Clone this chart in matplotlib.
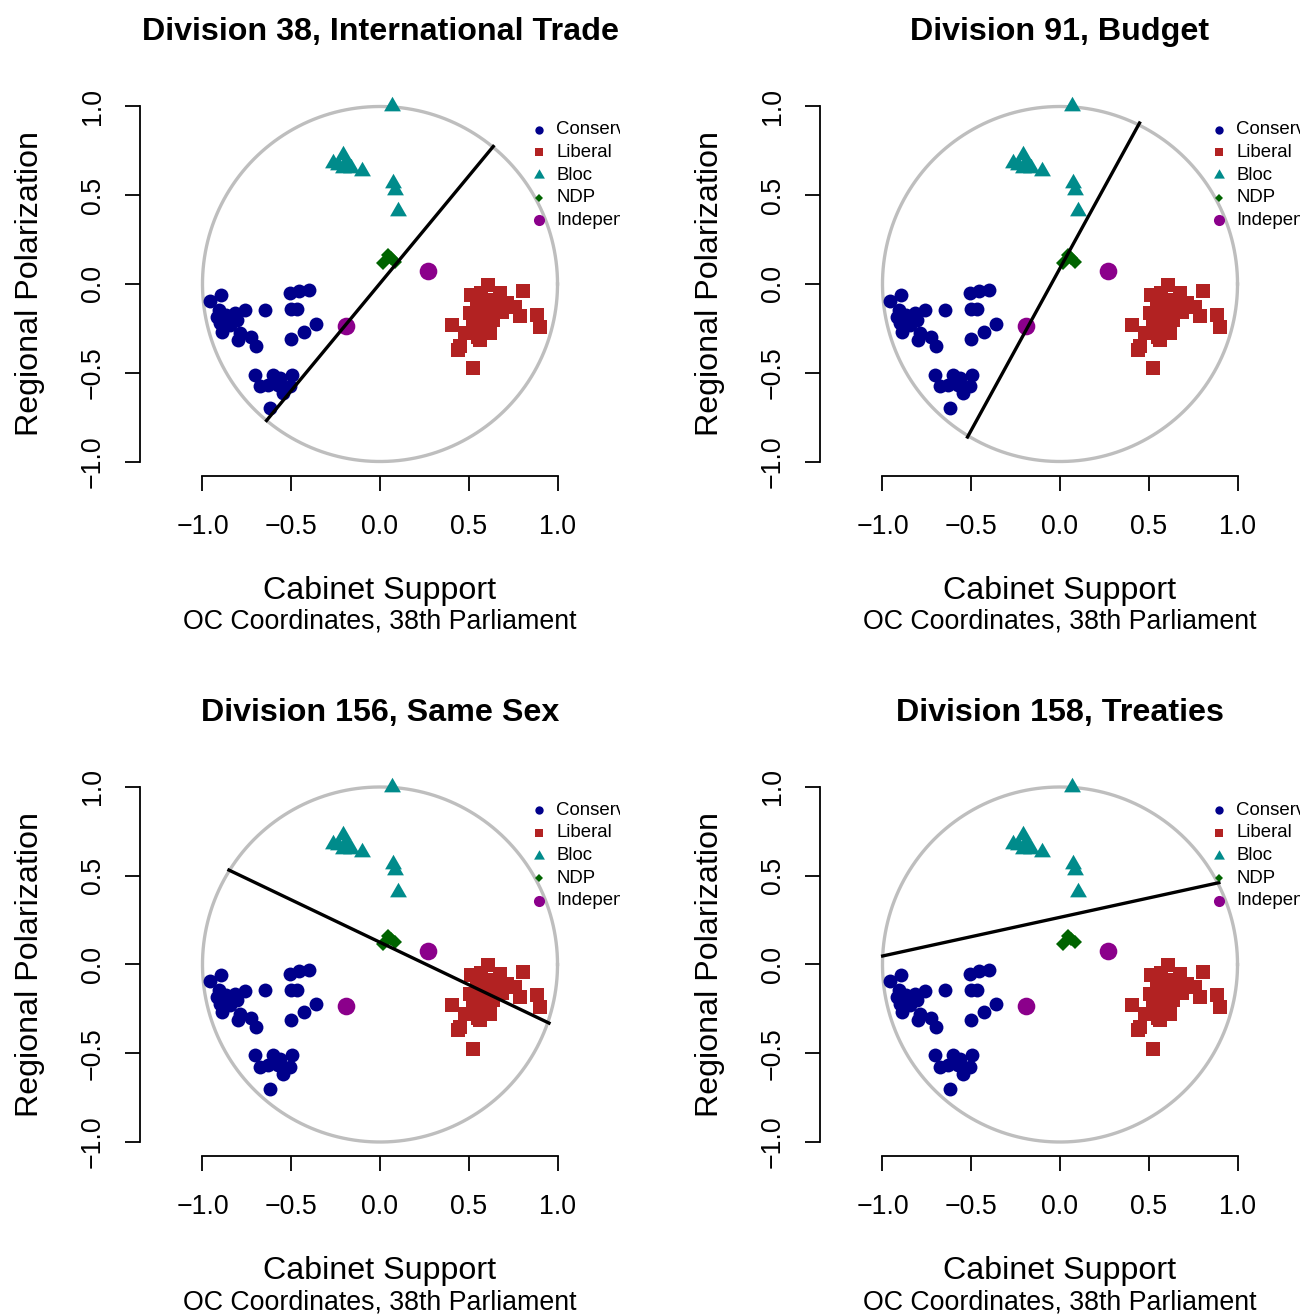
import numpy as np
import matplotlib
matplotlib.use("Agg")
import matplotlib.pyplot as plt

plt.rcParams['font.family'] = ['Liberation Sans', 'DejaVu Sans']

# OC coordinates of the MPs (same in every panel)
cons_x = [-0.959, -0.897, -0.906, -0.870, -0.818, -0.762, -0.902, -0.891, -0.846, -0.808,
          -0.790, -0.799, -0.724, -0.696, -0.649, -0.508, -0.455, -0.399, -0.504, -0.470,
          -0.358, -0.429, -0.504, -0.705, -0.677, -0.602, -0.564, -0.498, -0.508, -0.546,
          -0.617, -0.630, -0.574, -0.855, -0.920]
cons_y = [-0.093, -0.061, -0.146, -0.174, -0.164, -0.149, -0.221, -0.268, -0.230, -0.202,
          -0.277, -0.315, -0.300, -0.352, -0.146, -0.052, -0.037, -0.033, -0.142, -0.142,
          -0.224, -0.268, -0.311, -0.510, -0.577, -0.510, -0.530, -0.510, -0.577, -0.615,
          -0.700, -0.568, -0.568, -0.210, -0.185]

lib_x = [0.403, 0.450, 0.440, 0.525, 0.515, 0.609, 0.675, 0.807, 0.544, 0.581,
         0.638, 0.713, 0.760, 0.788, 0.882, 0.901, 0.506, 0.563, 0.619, 0.544,
         0.638, 0.525, 0.581, 0.600, 0.656, 0.506, 0.478, 0.570, 0.620, 0.690,
         0.550, 0.600]
lib_y = [-0.230, -0.352, -0.371, -0.474, -0.061, -0.005, -0.052, -0.042, -0.127, -0.164,
         -0.164, -0.108, -0.127, -0.183, -0.174, -0.240, -0.277, -0.315, -0.277, -0.240,
         -0.202, -0.202, -0.240, -0.089, -0.127, -0.164, -0.277, -0.050, -0.130, -0.160,
         -0.300, -0.210]

bloc_x = [-0.264, -0.211, -0.189, -0.207, -0.161, -0.104, -0.236, 0.074, 0.084, 0.102, 0.065]
bloc_y = [0.681, 0.728, 0.690, 0.653, 0.653, 0.634, 0.671, 0.568, 0.531, 0.409, 1.000]

ndp_x = [0.016, 0.044, 0.060, 0.083]
ndp_y = [0.118, 0.163, 0.146, 0.124]

ind_x = [-0.189, 0.268]
ind_y = [-0.234, 0.076]

# cutting lines for each division: (x1, y1, x2, y2)
titles = ["Division 38, International Trade", "Division 91, Budget",
          "Division 156, Same Sex", "Division 158, Treaties"]
cut_lines = [(-0.639, -0.769, 0.638, 0.775),
             (-0.521, -0.862, 0.448, 0.907),
             (-0.851, 0.532, 0.952, -0.330),
             (-0.999, 0.048, 0.895, 0.461)]

legend_labels = ["Conservative", "Liberal", "Bloc", "NDP", "Independent"]

ticks = [-1.0, -0.5, 0.0, 0.5, 1.0]
tick_labels = ["\u22121.0", "\u22120.5", "0.0", "0.5", "1.0"]

W, H = 1305, 1315
fig = plt.figure(figsize=(W / 100, H / 100), dpi=100)

tri = [(0, 1.155), (-1, -0.577), (1, -0.577)]
styles = [dict(marker='o', color='#00008B', ms=10.0, lms=6.0),
          dict(marker='s', color='#B22222', ms=10.2, lms=6.2),
          dict(marker=tri, color='#008B8B', ms=14.0, lms=9.0),
          dict(marker='D', color='#006400', ms=7.2, lms=4.2),
          dict(marker='o', color='#8B008B', ms=12.7, lms=8.0)]
xs = [cons_x, lib_x, bloc_x, ndp_x, ind_x]
ys = [cons_y, lib_y, bloc_y, ndp_y, ind_y]

lefts = [140, 820, 140, 820]
tops = [92.3, 92.3, 772.8, 772.8]
aw, ah = 480, 383.4
theta = np.linspace(0, 2 * np.pi, 400)

for i in range(4):
    ax = fig.add_axes([lefts[i] / W, 1 - (tops[i] + ah) / H, aw / W, ah / H])
    ax.set_xlim(-1.352, 1.352)
    ax.set_ylim(-1.08, 1.08)
    for s in ['top', 'right']:
        ax.spines[s].set_visible(False)
    ax.spines['left'].set_bounds(-1, 1)
    ax.spines['bottom'].set_bounds(-1, 1)
    for s in ['left', 'bottom']:
        ax.spines[s].set_linewidth(1.3)
    ax.set_xticks(ticks)
    ax.set_yticks(ticks)
    ax.set_xticklabels([])
    ax.set_yticklabels([])
    ax.tick_params(direction='out', length=11, width=1.3)

    for v, lab in zip(ticks, tick_labels):
        ax.annotate(lab, xy=(v, 0), xycoords=('data', 'axes fraction'),
                    xytext=(0, -41.8), textcoords='offset points',
                    ha='center', va='baseline', fontsize=19.3, annotation_clip=False)
        ax.annotate(lab, xy=(0, v), xycoords=('axes fraction', 'data'),
                    xytext=(-28.8, 0), textcoords='offset points',
                    ha='center', va='baseline', rotation=90, rotation_mode='anchor',
                    fontsize=19.3, annotation_clip=False)

    ax.annotate("Regional Polarization", xy=(0, 0), xycoords=('axes fraction', 'data'),
                xytext=(-73.4, 0), textcoords='offset points', ha='center', va='baseline',
                rotation=90, rotation_mode='anchor', fontsize=23.2, annotation_clip=False)
    ax.annotate("Cabinet Support", xy=(0, 0), xycoords=('data', 'axes fraction'),
                xytext=(0, -88.6), textcoords='offset points', ha='center', va='baseline',
                fontsize=23.2, annotation_clip=False)
    ax.annotate("OC Coordinates, 38th Parliament", xy=(0, 0), xycoords=('data', 'axes fraction'),
                xytext=(0, -110.2), textcoords='offset points', ha='center', va='baseline',
                fontsize=19.3, annotation_clip=False)
    ax.annotate(titles[i], xy=(0, 1), xycoords=('data', 'axes fraction'),
                xytext=(0, 37.6), textcoords='offset points', ha='center', va='baseline',
                fontsize=23.2, fontweight='bold', annotation_clip=False)

    ax.plot(np.cos(theta), np.sin(theta), color='#BEBEBE', lw=2.4)

    for x, y, st in zip(xs, ys, styles):
        ax.plot(x, y, linestyle='none', marker=st['marker'], color=st['color'],
                ms=st['ms'], mec=st['color'], mew=0)

    x1, y1, x2, y2 = cut_lines[i]
    ax.plot([x1, x2], [y1, y2], color='black', lw=2.4)

    # legend, clipped by the plot region like the original
    for k, (lab, st) in enumerate(zip(legend_labels, styles)):
        ly = 0.868 - k * 0.127
        ax.plot([0.896], [ly], linestyle='none', marker=st['marker'], color=st['color'],
                ms=st['lms'], mew=0)
        ax.text(0.992, ly, lab, fontsize=13.4, va='center', ha='left', clip_on=True)

fig.savefig("out.png", dpi=100)
